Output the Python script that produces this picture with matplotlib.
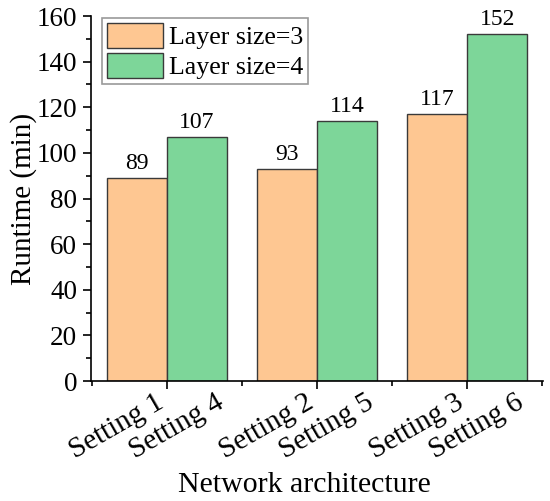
import numpy as np
import matplotlib.pyplot as plt
from matplotlib.transforms import ScaledTranslation

plt.rcParams['font.family'] = ['Liberation Serif', 'DejaVu Serif']
plt.rcParams['font.size'] = 20

# data
series_names = ['Layer size=3', 'Layer size=4']
labels_3 = ['Setting 1', 'Setting 2', 'Setting 3']
labels_4 = ['Setting 4', 'Setting 5', 'Setting 6']
runtime_3 = [89, 93, 117]
runtime_4 = [107, 114, 152]
colors = ['#FEC792', '#7DD699']

x = np.arange(len(runtime_3))
w = 0.4

fig = plt.figure(figsize=(5.5, 5.01), dpi=100)
ax = fig.add_axes([0.1655, 0.2395, 0.822, 0.7285])

b1 = ax.bar(x - w / 2, runtime_3, w, color=colors[0], edgecolor='#3a3a3a',
            linewidth=1, label=series_names[0])
b2 = ax.bar(x + w / 2, runtime_4, w, color=colors[1], edgecolor='#3a3a3a',
            linewidth=1, label=series_names[1])
ax.bar_label(b1, padding=3, fontsize=17)
ax.bar_label(b2, padding=3, fontsize=17)

ax.set_xlim(-0.505, 2.505)
ax.set_ylim(0, 160)
ax.set_yticks(np.arange(0, 161, 20))
ax.set_yticks(np.arange(10, 160, 20), minor=True)
ax.set_xticks(x)
ax.set_xticklabels([])
ax.set_xticks([-0.5, 0.5, 1.5, 2.5], minor=True)
ax.tick_params(axis='both', which='major', length=6, width=1.2, labelsize=19.5, pad=4)
ax.tick_params(axis='both', which='minor', length=3.5, width=1.2)

for s in ['top', 'right']:
    ax.spines[s].set_visible(False)
for s in ['left', 'bottom']:
    ax.spines[s].set_linewidth(1.2)

# staggered tick labels under each bar
off = ScaledTranslation(18 / 100, -8 / 100, fig.dpi_scale_trans)
for xs, labs in [(x - w / 2, labels_3), (x + w / 2, labels_4)]:
    for xi, lab in zip(xs, labs):
        ax.text(xi, 0, lab, transform=ax.get_xaxis_transform() + off,
                rotation=30, rotation_mode='anchor', ha='right', va='top',
                fontsize=21)

ax.set_ylabel('Runtime (min)', fontsize=21, labelpad=0)
fig.text(0.553, 0.018, 'Network architecture', ha='center', va='baseline',
         fontsize=21.5)

leg = ax.legend(loc='upper left', bbox_to_anchor=(0.024, 0.9945), fontsize=18.6,
                frameon=True, fancybox=False, edgecolor='#808080',
                handlelength=2.15, handleheight=1.08, handletextpad=0.25,
                borderpad=0.2, labelspacing=0.15, borderaxespad=0)
leg.get_frame().set_linewidth(1.2)

fig.savefig('out.png', dpi=100)
